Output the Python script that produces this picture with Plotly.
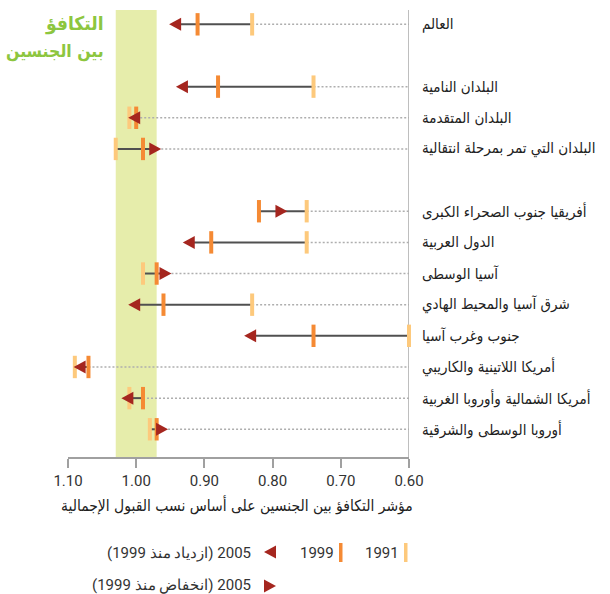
import plotly.graph_objects as go

# ---------------- data ----------------
regions = [
    "العالم",
    "البلدان النامية",
    "البلدان المتقدمة",
    "البلدان التي تمر بمرحلة انتقالية",
    "أفريقيا جنوب الصحراء الكبرى",
    "الدول العربية",
    "آسيا الوسطى",
    "شرق آسيا والمحيط الهادي",
    "جنوب وغرب آسيا",
    "أمريكا اللاتينية والكاريبي",
    "أمريكا الشمالية وأوروبا الغربية",
    "أوروبا الوسطى والشرقية",
]
v1991 = [0.83, 0.74, 1.01, 1.03, 0.75, 0.75, 0.99, 0.83, 0.60, 1.09, 1.01, 0.98]
v1999 = [0.91, 0.88, 1.00, 0.99, 0.82, 0.89, 0.97, 0.96, 0.74, 1.07, 0.99, 0.97]
v2005 = [0.94, 0.93, 1.00, 0.975, 0.79, 0.92, 0.96, 1.00, 0.83, 1.08, 1.01, 0.965]
group_ends = [0, 3]  # a blank row follows these entries

x_ticks = [1.10, 1.00, 0.90, 0.80, 0.70, 0.60]
x_tick_labels = ["1.10", "1.00", "0.90", "0.80", "0.70", "0.60"]
parity_band = [0.97, 1.03]
title_lines = ["التكافؤ", "بين الجنسين"]
axis_title = "مؤشر التكافؤ بين الجنسين على أساس نسب القبول الإجمالية"
legend_1991 = "1991"
legend_1999 = "1999"
legend_up = "2005 (ازدياد منذ 1999)"
legend_down = "2005 (انخفاض منذ 1999)"

# ---------------- style ----------------
C1991 = "#FDC97C"
C1999 = "#F58A34"
C2005 = "#A5261F"
BAND = "#E6EDAB"
GREEN = "#8DC63F"
NUM_FONT = "Liberation Sans Narrow, Roboto, Liberation Sans, sans-serif"
AR_FONT = "DejaVu Sans Condensed, DejaVu Sans, sans-serif"

W, H = 610, 594
ML, MR, MT, MB = 68, 201, 10, 137
PW, PH = W - ML - MR, H - MT - MB


def px(x):
    return (x - ML) / PW


def py(y):
    return (H - MB - y) / PH


# row positions (blank rows between groups)
ys = []
pos = 0
for i in range(len(regions)):
    ys.append(pos)
    pos += 2 if i in group_ends else 1

fig = go.Figure()

# dotted leaders and solid change segments
for i in range(len(regions)):
    vals = [v1991[i], v1999[i], v2005[i]]
    lo, hi = min(vals), max(vals)
    fig.add_trace(go.Scatter(x=[lo, 0.60], y=[ys[i], ys[i]], mode="lines",
                             line=dict(color="#AEAEAE", width=1.5, dash="2px,2px"),
                             hoverinfo="skip", showlegend=False))
    fig.add_trace(go.Scatter(x=[hi, lo], y=[ys[i], ys[i]], mode="lines",
                             line=dict(color="#505050", width=2),
                             hoverinfo="skip", showlegend=False))

fig.add_trace(go.Scatter(x=v1991, y=ys, mode="markers", name="1991",
                         marker=dict(symbol="line-ns", size=16, line=dict(width=4, color=C1991)),
                         showlegend=False, cliponaxis=False))
fig.add_trace(go.Scatter(x=v1999, y=ys, mode="markers", name="1999",
                         marker=dict(symbol="line-ns", size=16, line=dict(width=4, color=C1999)),
                         showlegend=False, cliponaxis=False))

shapes = [
    dict(type="rect", xref="x", yref="paper", x0=parity_band[1], x1=parity_band[0],
         y0=0, y1=1, fillcolor=BAND, line=dict(width=0), layer="below"),
    dict(type="line", xref="x", yref="paper", x0=0.60, x1=0.60, y0=0, y1=1,
         line=dict(color="#A8A8A8", width=1.5), layer="below"),
]

LEFT_TRI = "M-8,0 L4,6.5 L4,-6.5 Z"
RIGHT_TRI = "M8,0 L-4,6.5 L-4,-6.5 Z"
for i in range(len(regions)):
    path = LEFT_TRI if v2005[i] >= v1999[i] else RIGHT_TRI
    shapes.append(dict(type="path", xref="x", yref="y", xsizemode="pixel", ysizemode="pixel",
                       xanchor=v2005[i], yanchor=ys[i], path=path,
                       fillcolor=C2005, line=dict(width=0), layer="above"))


# legend symbols (paper coords)
def prect(x0, x1, y0, y1, color):
    return dict(type="rect", xref="paper", yref="paper", x0=px(x0), x1=px(x1),
                y0=py(y1), y1=py(y0), fillcolor=color, line=dict(width=0))


def ppath(points, color):
    d = "M" + " L".join(f"{px(a):.5f},{py(b):.5f}" for a, b in points) + " Z"
    return dict(type="path", xref="paper", yref="paper", path=d,
                fillcolor=color, line=dict(width=0))


shapes += [
    prect(404, 407.5, 543, 562, C1991),
    prect(339, 342.5, 543, 562, C1999),
    ppath([(264, 552), (276, 545.5), (276, 558.5)], C2005),
    ppath([(276, 586), (264, 579.5), (264, 592.5)], C2005),
]

annotations = []
for i, r in enumerate(regions):
    annotations.append(dict(x=0.60, y=ys[i], xref="x", yref="y", text=r, showarrow=False,
                            xanchor="left", yanchor="middle", xshift=11,
                            font=dict(family=AR_FONT, size=15, color="#222222")))

annotations += [
    dict(x=px(106), y=py(23), xref="paper", yref="paper", text="<b>" + title_lines[0] + "</b>",
         showarrow=False, xanchor="right", yanchor="middle",
         font=dict(family=AR_FONT, size=19, color=GREEN)),
    dict(x=px(106), y=py(51), xref="paper", yref="paper", text="<b>" + title_lines[1] + "</b>",
         showarrow=False, xanchor="right", yanchor="middle",
         font=dict(family=AR_FONT, size=17.5, color=GREEN)),
    dict(x=px(237), y=py(505), xref="paper", yref="paper", text=axis_title, showarrow=False,
         xanchor="center", yanchor="middle", font=dict(family=AR_FONT, size=15.5, color="#222222")),
    dict(x=px(401), y=py(553), xref="paper", yref="paper", text=legend_1991, showarrow=False,
         xanchor="right", yanchor="middle", font=dict(family=NUM_FONT, size=15, color="#333333")),
    dict(x=px(336), y=py(553), xref="paper", yref="paper", text=legend_1999, showarrow=False,
         xanchor="right", yanchor="middle", font=dict(family=NUM_FONT, size=15, color="#333333")),
    dict(x=px(253), y=py(553), xref="paper", yref="paper", text="\u202b" + legend_up + "\u202c",
         showarrow=False, xanchor="right", yanchor="middle",
         font=dict(family=NUM_FONT, size=15, color="#333333")),
    dict(x=px(253), y=py(585), xref="paper", yref="paper", text="\u202b" + legend_down + "\u202c",
         showarrow=False, xanchor="right", yanchor="middle",
         font=dict(family=NUM_FONT, size=15, color="#333333")),
]

fig.update_layout(
    width=W, height=H,
    margin=dict(l=ML, r=MR, t=MT, b=MB),
    paper_bgcolor="white", plot_bgcolor="white",
    shapes=shapes, annotations=annotations, showlegend=False,
    hovermode=False,
    xaxis=dict(range=[1.10, 0.60], tickvals=x_ticks, ticktext=x_tick_labels,
               showgrid=False, zeroline=False, showline=True, linecolor="#A0A0A0", linewidth=1.5,
               ticks="outside", ticklen=9, tickwidth=1.5, tickcolor="#A0A0A0",
               tickfont=dict(family=NUM_FONT, size=15, color="#333333")),
    yaxis=dict(range=[ys[-1] + 0.89, -0.46], visible=False, showgrid=False, zeroline=False),
)

fig.write_html("out.html", config={"displayModeBar": False},
               post_script="document.body.style.margin='0';")
